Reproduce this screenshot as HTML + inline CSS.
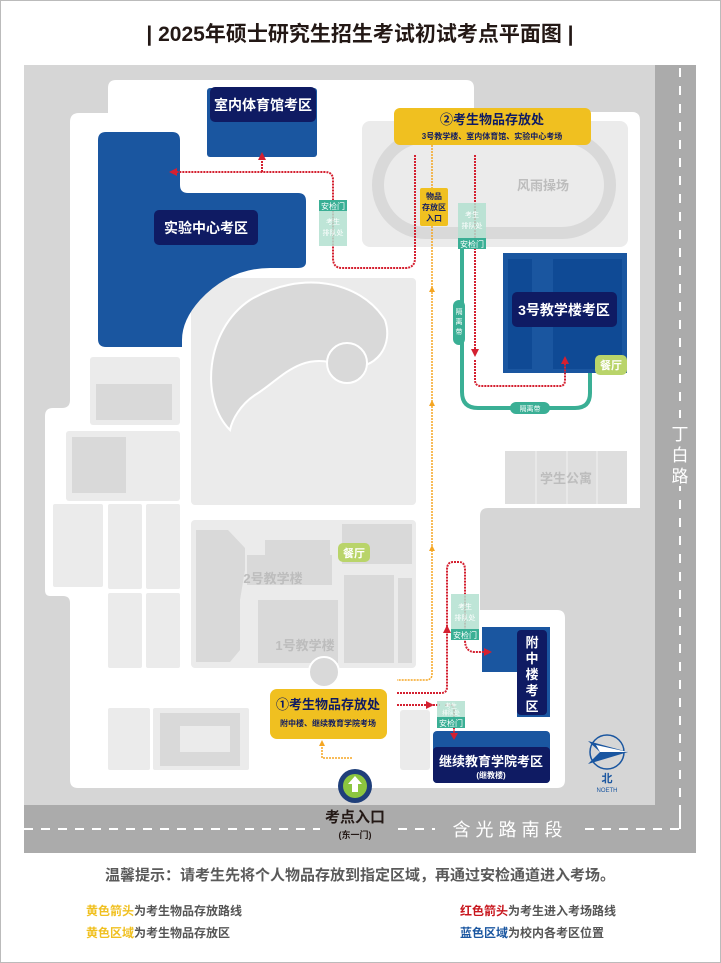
<!DOCTYPE html>
<html><head><meta charset="utf-8"><style>
html,body{margin:0;padding:0;background:#fff}
svg{display:block}
text{font-family:"Liberation Sans","Noto Sans CJK SC",sans-serif}
</style></head><body>
<svg width="721" height="963" viewBox="0 0 721 963" xmlns="http://www.w3.org/2000/svg">
<rect x="0.5" y="0.5" width="720" height="962" fill="#fff" stroke="#bbb"/>
<text x="360" y="41" text-anchor="middle" font-size="21" font-weight="bold" fill="#231815">| 2025年硕士研究生招生考试初试考点平面图 |</text>

<!-- map base -->
<rect x="24" y="65" width="672" height="788" fill="#d6d6d6"/>
<rect x="655" y="65" width="41" height="788" fill="#ababab"/>
<rect x="24" y="805" width="672" height="48" fill="#ababab"/>
<line x1="680" y1="68" x2="680" y2="805" stroke="#fff" stroke-width="2" stroke-dasharray="9,9"/>
<line x1="24" y1="829" x2="680" y2="829" stroke="#fff" stroke-width="2" stroke-dasharray="9,8"/>
<line x1="680" y1="805" x2="680" y2="829" stroke="#fff" stroke-width="2"/>
<rect x="670" y="418" width="20" height="68" fill="#ababab"/>
<text x="680" y="440" text-anchor="middle" font-size="17" fill="#fff">丁</text>
<text x="680" y="461" text-anchor="middle" font-size="17" fill="#fff">白</text>
<text x="680" y="482" text-anchor="middle" font-size="17" fill="#fff">路</text>
<rect x="435" y="818" width="150" height="22" fill="#ababab"/>
<text x="510" y="836" text-anchor="middle" font-size="18" fill="#fff" letter-spacing="5">含光路南段</text>

<!-- white campus -->
<path d="M116 80 H466 Q474 80 474 88 V112 H632 Q640 112 640 120 V508 H488 Q480 508 480 516 V610 H557 Q565 610 565 618 V780 Q565 788 557 788 H78 Q70 788 70 780 V603 Q70 596 63 596 H50 Q45 596 45 590 V416 Q45 408 53 408 H62 Q70 408 70 400 V122 Q70 113 79 113 H108 V88 Q108 80 116 80 Z" fill="#fff"/>

<!-- left gray buildings -->
<rect x="90" y="357" width="90" height="68" rx="3" fill="#ebebeb"/>
<rect x="96" y="384" width="76" height="36" fill="#d9d9d9"/>
<rect x="66" y="431" width="114" height="70" rx="3" fill="#ebebeb"/>
<rect x="72" y="437" width="54" height="56" fill="#d9d9d9"/>
<rect x="53" y="504" width="50" height="83" rx="2" fill="#ebebeb"/>
<rect x="108" y="504" width="34" height="85" rx="2" fill="#ebebeb"/>
<rect x="146" y="504" width="34" height="85" rx="2" fill="#ebebeb"/>
<rect x="108" y="593" width="34" height="75" rx="2" fill="#ebebeb"/>
<rect x="146" y="593" width="34" height="75" rx="2" fill="#ebebeb"/>
<rect x="108" y="708" width="42" height="62" rx="2" fill="#ebebeb"/>
<rect x="153" y="708" width="96" height="62" rx="2" fill="#ebebeb"/>
<rect x="160" y="713" width="80" height="53" fill="#d9d9d9"/>
<rect x="180" y="726" width="50" height="26" fill="#ebebeb"/>

<!-- central yin-yang area -->
<rect x="191" y="278" width="225" height="227" rx="4" fill="#ebebeb"/>
<path d="M230 430 C200 400 205 330 250 300 C300 270 360 280 385 320 C395 350 370 375 340 365 C300 350 280 380 255 395 C240 405 232 420 230 430 Z" fill="#d9d9d9" stroke="#fff" stroke-width="2"/>
<circle cx="347" cy="363" r="20" fill="#d9d9d9" stroke="#fff" stroke-width="2"/>
<!-- 1/2 teaching buildings -->
<rect x="191" y="520" width="225" height="148" rx="4" fill="#ebebeb"/>
<path d="M196 530 H228 L245 548 V570 L240 600 V650 L230 662 H196 Z" fill="#d9d9d9"/>
<rect x="247" y="555" width="85" height="30" fill="#d9d9d9"/>
<rect x="265" y="540" width="65" height="18" fill="#d9d9d9"/>
<rect x="258" y="600" width="80" height="63" fill="#d9d9d9"/>
<rect x="344" y="575" width="50" height="88" fill="#d9d9d9"/>
<rect x="398" y="578" width="14" height="85" fill="#d9d9d9"/>
<rect x="342" y="524" width="70" height="40" fill="#d9d9d9"/>
<text x="273" y="583" text-anchor="middle" font-size="13" fill="#bdbdbd" font-weight="bold">2号教学楼</text>
<text x="305" y="650" text-anchor="middle" font-size="13" fill="#bdbdbd" font-weight="bold">1号教学楼</text>
<circle cx="324" cy="672" r="15" fill="#d9d9d9" stroke="#fff" stroke-width="2"/>
<rect x="338" y="543" width="32" height="19" rx="5" fill="#b9d46a"/>
<text x="354" y="557" text-anchor="middle" font-size="11" font-weight="bold" fill="#fff">餐厅</text>
<rect x="400" y="710" width="30" height="60" rx="3" fill="#ebebeb"/>

<!-- track area -->
<rect x="362" y="121" width="266" height="126" rx="8" fill="#ebebeb"/>
<rect x="378" y="137" width="232" height="96" rx="48" fill="none" stroke="#d9d9d9" stroke-width="12"/>
<text x="543" y="190" text-anchor="middle" font-size="13" fill="#bdbdbd" font-weight="bold">风雨操场</text>

<!-- dorm -->
<rect x="505" y="451" width="122" height="53" fill="#dedede"/>
<line x1="536" y1="451" x2="536" y2="504" stroke="#f2f2f2"/>
<line x1="567" y1="451" x2="567" y2="504" stroke="#f2f2f2"/>
<line x1="597" y1="451" x2="597" y2="504" stroke="#f2f2f2"/>
<text x="566" y="483" text-anchor="middle" font-size="13" fill="#bdbdbd" font-weight="bold">学生公寓</text>

<!-- blue exam areas -->
<rect x="207" y="88" width="110" height="69" rx="3" fill="#1a56a0"/>
<rect x="210" y="87" width="106" height="35" rx="5" fill="#0f1b63"/>
<text x="263" y="110" text-anchor="middle" font-size="14" font-weight="bold" fill="#fff">室内体育馆考区</text>

<path d="M106 132 H172 Q180 132 180 140 V185 Q180 193 188 193 H298 Q306 193 306 201 V262 Q306 268 298 268 H270 Q230 268 200 300 Q182 320 182 340 V347 H106 Q98 347 98 339 V140 Q98 132 106 132 Z" fill="#1a56a0"/>
<rect x="154" y="210" width="104" height="35" rx="5" fill="#0f1b63"/>
<text x="206" y="233" text-anchor="middle" font-size="14" font-weight="bold" fill="#fff">实验中心考区</text>

<rect x="503" y="253" width="124" height="120" fill="#1a56a0"/>
<rect x="508" y="259" width="24" height="110" fill="#0f4a95"/>
<rect x="553" y="259" width="69" height="110" fill="#0f4a95"/>
<rect x="512" y="292" width="105" height="35" rx="5" fill="#0f1b63"/>
<text x="564" y="315" text-anchor="middle" font-size="14" font-weight="bold" fill="#fff">3号教学楼考区</text>
<rect x="595" y="355" width="32" height="20" rx="5" fill="#b9d46a"/>
<text x="611" y="369" text-anchor="middle" font-size="11" font-weight="bold" fill="#fff">餐厅</text>

<path d="M482 627 H550 V717 H517 V672 H482 Z" fill="#1a56a0"/>
<rect x="517" y="630" width="30" height="85" rx="4" fill="#0f1b63"/>
<text font-size="13" font-weight="bold" fill="#fff" text-anchor="middle"><tspan x="532" y="647">附</tspan><tspan x="532" y="663">中</tspan><tspan x="532" y="679">楼</tspan><tspan x="532" y="695">考</tspan><tspan x="532" y="711">区</tspan></text>

<rect x="433" y="731" width="117" height="52" rx="4" fill="#1a56a0"/>
<rect x="433" y="747" width="117" height="36" rx="4" fill="#0f1b63"/>
<text x="491" y="766" text-anchor="middle" font-size="13" font-weight="bold" fill="#fff">继续教育学院考区</text>
<text x="491" y="778" text-anchor="middle" font-size="8" font-weight="bold" fill="#fff">(继教楼)</text>

<!-- teal isolation belt -->
<path d="M462 248 V392 Q462 408 478 408 H575 Q590 408 590 393 V373" fill="none" stroke="#3aaf95" stroke-width="4"/>
<rect x="453" y="300" width="12" height="45" rx="6" fill="#3aaf95"/>
<text font-size="7" fill="#fff" text-anchor="middle"><tspan x="459" y="314">隔</tspan><tspan x="459" y="324">离</tspan><tspan x="459" y="334">带</tspan></text>
<rect x="510" y="402" width="40" height="12" rx="6" fill="#3aaf95"/>
<text x="530" y="411" text-anchor="middle" font-size="7" fill="#fff">隔离带</text>

<!-- orange routes -->
<path d="M432 145 V674 Q432 680 426 680 H397" fill="none" stroke="#f5a623" stroke-width="1.5" stroke-dasharray="2,1"/>
<path d="M432 286 l-3 6 h6 z M432 400 l-3 6 h6 z M432 545 l-3 6 h6 z" fill="#f5a623"/>
<path d="M352 758 H322 V744" fill="none" stroke="#f5a623" stroke-width="1.5" stroke-dasharray="2,1"/>
<path d="M322 740 l-3 6 h6 z" fill="#f5a623"/>

<!-- red routes -->
<g fill="none" stroke="#d42030" stroke-width="2" stroke-dasharray="2,1">
<path d="M415 155 V258 Q415 268 405 268 H342 Q333 268 333 258 V180 Q333 172 325 172 H175"/>
<path d="M262 172 V158"/>
<path d="M475 155 V350"/>
<path d="M475 360 V380 Q475 386 481 386 H560 Q565 386 565 380 V362"/>
<path d="M397 693 H441 Q447 693 447 687 V570 Q447 562 453 562 H459 Q465 562 465 570 V640 Q465 652 475 652 H485"/>
<path d="M397 705 H440 "/>
<path d="M445 705 H451 Q454 705 454 710 V735"/>
</g>
<g fill="#d42030">
<path d="M169 172 l8 -4 v8 z"/>
<path d="M262 152 l-4 8 h8 z"/>
<path d="M475 357 l-4 -8 h8 z"/>
<path d="M565 356 l-4 8 h8 z"/>
<path d="M447 625 l-4 8 h8 z"/>
<path d="M492 652 l-8 -4 v8 z"/>
<path d="M434 705 l-8 -4 v8 z"/>
<path d="M454 740 l-4 -7 h8 z"/>
</g>

<!-- security / queue boxes -->
<rect x="319" y="200" width="28" height="46" fill="#b3e0d0" opacity="0.85"/>
<rect x="319" y="200" width="28" height="11" fill="#3aaf95"/>
<text x="333" y="209" text-anchor="middle" font-size="8" fill="#fff">安检门</text>
<text font-size="7" fill="#fff" text-anchor="middle"><tspan x="333" y="224">考生</tspan><tspan x="333" y="235">排队处</tspan></text>

<rect x="458" y="203" width="28" height="46" fill="#b3e0d0" opacity="0.85"/>
<rect x="458" y="238" width="28" height="11" fill="#3aaf95"/>
<text x="472" y="247" text-anchor="middle" font-size="8" fill="#fff">安检门</text>
<text font-size="7" fill="#fff" text-anchor="middle"><tspan x="472" y="217">考生</tspan><tspan x="472" y="228">排队处</tspan></text>

<rect x="451" y="594" width="28" height="46" fill="#b3e0d0" opacity="0.85"/>
<rect x="451" y="629" width="28" height="11" fill="#3aaf95"/>
<text x="465" y="638" text-anchor="middle" font-size="8" fill="#fff">安检门</text>
<text font-size="7" fill="#fff" text-anchor="middle"><tspan x="465" y="609">考生</tspan><tspan x="465" y="620">排队处</tspan></text>

<rect x="437" y="701" width="28" height="27" fill="#b3e0d0" opacity="0.85"/>
<rect x="437" y="717" width="28" height="11" fill="#3aaf95"/>
<text x="451" y="726" text-anchor="middle" font-size="8" fill="#fff">安检门</text>
<text font-size="6" fill="#fff" text-anchor="middle"><tspan x="451" y="708">考生</tspan><tspan x="451" y="715">排队处</tspan></text>

<!-- yellow storage -->
<rect x="394" y="108" width="197" height="37" rx="6" fill="#f0c020"/>
<text x="492" y="124" text-anchor="middle" font-size="13" font-weight="bold" fill="#0f1b63">②考生物品存放处</text>
<text x="492" y="139" text-anchor="middle" font-size="8" font-weight="bold" fill="#0f1b63">3号教学楼、室内体育馆、实验中心考场</text>
<rect x="420" y="188" width="28" height="38" rx="2" fill="#f0c020"/>
<text font-size="8" font-weight="bold" fill="#0f1b63" text-anchor="middle"><tspan x="434" y="199">物品</tspan><tspan x="434" y="210">存放区</tspan><tspan x="434" y="221">入口</tspan></text>

<rect x="270" y="689" width="117" height="50" rx="7" fill="#f0c020"/>
<text x="328" y="709" text-anchor="middle" font-size="13" font-weight="bold" fill="#0f1b63">①考生物品存放处</text>
<text x="328" y="726" text-anchor="middle" font-size="8" font-weight="bold" fill="#0f1b63">附中楼、继续教育学院考场</text>

<!-- entrance -->
<circle cx="355" cy="786" r="17" fill="#1f3f7a"/>
<circle cx="355" cy="786" r="12" fill="#8cc63f"/>
<path d="M355 776 l-7 8 h4 v8 h6 v-8 h4 z" fill="#fff"/>
<rect x="320" y="806" width="72" height="40" fill="#ababab"/>
<text x="355" y="822" text-anchor="middle" font-size="15" font-weight="bold" fill="#231815">考点入口</text>
<text x="355" y="838" text-anchor="middle" font-size="9" font-weight="bold" fill="#231815">(东一门)</text>

<!-- compass -->
<circle cx="607" cy="752" r="17" fill="none" stroke="#1a56a0" stroke-width="1.5"/>
<path d="M588 741 L628 752 L588 764 L600 752 Z" fill="#1a56a0"/>
<path d="M600 752 L628 752 L596 745 Z" fill="#fff"/>
<text x="607" y="782" text-anchor="middle" font-size="11" font-weight="bold" fill="#1a56a0">北</text>
<text x="607" y="792" text-anchor="middle" font-size="6" fill="#1a56a0">NOETH</text>

<!-- footer -->
<text x="360" y="880" text-anchor="middle" font-size="15" font-weight="bold" fill="#5a5a5a">温馨提示：请考生先将个人物品存放到指定区域，再通过安检通道进入考场。</text>
<text x="86" y="915" font-size="12" font-weight="bold" fill="#555"><tspan fill="#f0c020">黄色箭头</tspan>为考生物品存放路线</text>
<text x="86" y="937" font-size="12" font-weight="bold" fill="#555"><tspan fill="#f0c020">黄色区域</tspan>为考生物品存放区</text>
<text x="460" y="915" font-size="12" font-weight="bold" fill="#555"><tspan fill="#c8161d">红色箭头</tspan>为考生进入考场路线</text>
<text x="460" y="937" font-size="12" font-weight="bold" fill="#555"><tspan fill="#1a56a0">蓝色区域</tspan>为校内各考区位置</text>
</svg>
</body></html>
